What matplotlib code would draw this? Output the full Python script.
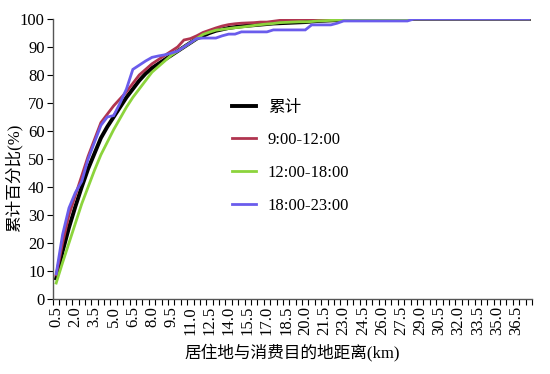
#
# Cumulative share of trips vs distance
#
import numpy as np
import matplotlib
matplotlib.use('Agg')
import matplotlib.pyplot as plt

plt.rcParams['font.family'] = ['Liberation Serif', 'Noto Sans CJK SC']
plt.rcParams['font.size'] = 12

#
# Data
#
dist = [0.5 + 0.5 * i for i in range(75)]
tick_labels = ['%.1f' % d for d in dist[::3]]

total = [7.4, 17, 25.5, 33, 40, 46.5, 52, 57.5, 61.5, 65,
         68.5, 72, 75, 78, 80.5, 82.5, 84, 85.5, 87, 88.5,
         90, 91.5, 93, 94, 95, 95.8, 96.3, 96.8, 97.1, 97.4,
         97.6, 97.8, 98, 98.2, 98.4, 98.5, 98.6, 98.7, 98.8, 98.9,
         99.1, 99.3, 99.4, 99.5, 99.6, 99.7, 99.8, 99.8, 99.9, 99.9,
         100, 100, 100, 100, 100, 100, 100, 100, 100, 100,
         100, 100, 100, 100, 100, 100, 100, 100, 100, 100,
         100, 100, 100, 100, 100]
morning = [8.6, 20, 30, 37, 44, 51, 57, 63, 66, 69,
           71.5, 74, 77, 80, 82, 84, 85.5, 87, 88.5, 90,
           92.5, 93, 94, 95.2, 96, 96.8, 97.5, 98, 98.3, 98.5,
           98.6, 98.7, 98.9, 98.9, 99.2, 99.5, 99.6, 99.7, 99.8, 99.9,
           100, 100, 100, 100, 100, 100, 100, 100, 100, 100,
           100, 100, 100, 100, 100, 100, 100, 100, 100, 100,
           100, 100, 100, 100, 100, 100, 100, 100, 100, 100,
           100, 100, 100, 100, 100]
afternoon = [5.7, 13, 20, 27, 34, 40, 46, 51.5, 56, 60.5,
             64.5, 68.5, 72, 75, 78, 81, 83, 85, 87, 88.5,
             90, 91.5, 93, 94.5, 95.3, 96, 96.3, 96.6, 96.9, 97.1,
             97.4, 97.7, 98, 98.2, 98.4, 98.7, 98.8, 98.9, 99, 99,
             99.1, 99.3, 99.4, 99.5, 99.6, 99.7, 100, 100, 100, 100,
             100, 100, 100, 100, 100, 100, 100, 100, 100, 100,
             100, 100, 100, 100, 100, 100, 100, 100, 100, 100,
             100, 100, 100, 100, 100]
evening = [9, 23, 32.5, 38, 42, 50, 56, 62, 65, 65.5,
           70, 75, 82, 83.5, 85, 86.3, 86.8, 87.2, 87.8, 88.5,
           90, 91.5, 93, 93.2, 93.2, 93.2, 94, 94.6, 94.6, 95.4,
           95.4, 95.4, 95.4, 95.4, 96.1, 96.1, 96.1, 96.1, 96.1, 96.1,
           97.9, 97.9, 97.9, 97.9, 98.5, 99.3, 99.3, 99.3, 99.3, 99.3,
           99.3, 99.3, 99.3, 99.3, 99.3, 99.3, 100, 100, 100, 100,
           100, 100, 100, 100, 100, 100, 100, 100, 100, 100,
           100, 100, 100, 100, 100]

names = ['累计', '9:00-12:00', '12:00-18:00', '18:00-23:00']
colors = ['#000000', '#B0344F', '#8CD43C', '#6A5CEC']
widths = [2.8, 2.0, 2.0, 2.0]

#
# Figure
#
fig = plt.figure(figsize=(5.5, 3.74), dpi=100)
ax = fig.add_axes([53 / 550, 75 / 374, 479 / 550, 280 / 374])

x = np.arange(len(dist))
for ser, name, c, lw in zip([total, morning, afternoon, evening], names, colors, widths):
    ax.plot(x, ser, color=c, lw=lw, label=name, solid_joinstyle='miter')

ax.set_xlim(-0.5, len(dist) - 0.5)
ax.set_ylim(0, 100)
ax.set_yticks(range(0, 101, 10))
ax.set_xticks(x[::3])
ax.set_xticklabels(tick_labels, rotation=90)
ax.set_xticks(np.arange(len(dist) + 1) - 0.5, minor=True)
ax.tick_params(axis='x', which='major', length=0, pad=5)
ax.tick_params(axis='x', which='minor', length=4, width=0.8, direction='out')
ax.tick_params(axis='y', length=4, width=0.8, direction='out', pad=2)

for s in ['top', 'right']:
    ax.spines[s].set_visible(False)
for s in ['left', 'bottom']:
    ax.spines[s].set_color('#555555')
    ax.spines[s].set_linewidth(1.0)

ax.set_xlabel('居住地与消费目的地距离(km)', labelpad=6)
fig.text(14 / 550, 1 - 178 / 374, '累计百分比(%)', rotation=90,
         ha='center', va='center')

ax.legend(loc='upper left', bbox_to_anchor=(0.374, 0.712), frameon=False,
          borderpad=0, borderaxespad=0, handlelength=1.45, handletextpad=0.7,
          labelspacing=1.0)

fig.savefig('out.png', dpi=100, facecolor='w')
